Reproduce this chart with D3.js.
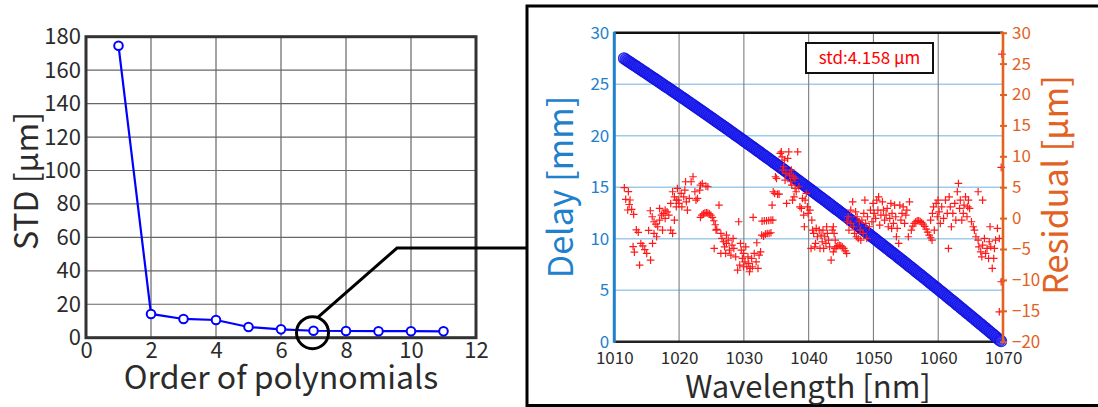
<!DOCTYPE html>
<html>
<head>
<meta charset="utf-8">
<script src="https://cdn.jsdelivr.net/npm/d3@7"></script>
<style>
  body { margin: 0; background: #fff; }
  svg { display: block; }
  text { font-family: "Noto Sans CJK JP", "Noto Sans", sans-serif; }
</style>
</head>
<body>
<svg id="chart" width="1098" height="407"></svg>
<script>
// ---- Left panel: fit error vs. polynomial order ----
const polyOrder = [1, 2, 3, 4, 5, 6, 7, 8, 9, 10, 11];
const polyStd   = [174.6, 14.2, 11.2, 10.6, 6.4, 5.0, 4.158, 4.0, 3.9, 3.9, 3.8];
const orderTicks = [0, 2, 4, 6, 8, 10, 12];
const stdTicks   = [0, 20, 40, 60, 80, 100, 120, 140, 160, 180];

// ---- Right panel: measured delay [wavelength nm, delay mm] ----
const delayPts = [
  [1011.5,27.50],[1011.75,27.40],[1012,27.29],[1012.25,27.19],[1012.5,27.09],[1012.75,26.98],[1013,26.88],[1013.25,26.77],
  [1013.5,26.67],[1013.75,26.56],[1014,26.46],[1014.25,26.35],[1014.5,26.25],[1014.75,26.14],[1015,26.04],[1015.25,25.93],
  [1015.5,25.83],[1015.75,25.72],[1016,25.62],[1016.25,25.51],[1016.5,25.41],[1016.75,25.30],[1017,25.19],[1017.25,25.08],
  [1017.5,24.98],[1017.75,24.87],[1018,24.77],[1018.25,24.66],[1018.5,24.56],[1018.75,24.45],[1019,24.34],[1019.25,24.23],
  [1019.5,24.13],[1019.75,24.02],[1020,23.91],[1020.25,23.80],[1020.5,23.70],[1020.75,23.59],[1021,23.48],[1021.25,23.37],
  [1021.5,23.26],[1021.75,23.15],[1022,23.05],[1022.25,22.94],[1022.5,22.83],[1022.75,22.72],[1023,22.61],[1023.25,22.50],
  [1023.5,22.39],[1023.75,22.28],[1024,22.17],[1024.25,22.06],[1024.5,21.95],[1024.75,21.84],[1025,21.73],[1025.25,21.62],
  [1025.5,21.51],[1025.75,21.40],[1026,21.29],[1026.25,21.18],[1026.5,21.07],[1026.75,20.96],[1027,20.85],[1027.25,20.74],
  [1027.5,20.63],[1027.75,20.51],[1028,20.40],[1028.25,20.29],[1028.5,20.18],[1028.75,20.06],[1029,19.95],[1029.25,19.84],
  [1029.5,19.73],[1029.75,19.61],[1030,19.50],[1030.25,19.39],[1030.5,19.28],[1030.75,19.16],[1031,19.05],[1031.25,18.94],
  [1031.5,18.83],[1031.75,18.71],[1032,18.60],[1032.25,18.48],[1032.5,18.37],[1032.75,18.25],[1033,18.14],[1033.25,18.03],
  [1033.5,17.92],[1033.75,17.80],[1034,17.69],[1034.25,17.57],[1034.5,17.46],[1034.75,17.34],[1035,17.23],[1035.25,17.11],
  [1035.5,17.00],[1035.75,16.88],[1036,16.77],[1036.25,16.65],[1036.5,16.53],[1036.75,16.41],[1037,16.30],[1037.25,16.18],
  [1037.5,16.07],[1037.75,15.95],[1038,15.84],[1038.25,15.72],[1038.5,15.60],[1038.75,15.48],[1039,15.37],[1039.25,15.25],
  [1039.5,15.13],[1039.75,15.01],[1040,14.90],[1040.25,14.78],[1040.5,14.66],[1040.75,14.54],[1041,14.43],[1041.25,14.31],
  [1041.5,14.19],[1041.75,14.07],[1042,13.95],[1042.25,13.83],[1042.5,13.72],[1042.75,13.60],[1043,13.48],[1043.25,13.36],
  [1043.5,13.24],[1043.75,13.12],[1044,13.00],[1044.25,12.88],[1044.5,12.76],[1044.75,12.64],[1045,12.52],[1045.25,12.40],
  [1045.5,12.28],[1045.75,12.16],[1046,12.04],[1046.25,11.92],[1046.5,11.80],[1046.75,11.68],[1047,11.56],[1047.25,11.43],
  [1047.5,11.31],[1047.75,11.19],[1048,11.07],[1048.25,10.95],[1048.5,10.83],[1048.75,10.70],[1049,10.58],[1049.25,10.46],
  [1049.5,10.34],[1049.75,10.21],[1050,10.09],[1050.25,9.97],[1050.5,9.85],[1050.75,9.72],[1051,9.60],[1051.25,9.48],
  [1051.5,9.36],[1051.75,9.23],[1052,9.11],[1052.25,8.98],[1052.5,8.86],[1052.75,8.73],[1053,8.61],[1053.25,8.49],
  [1053.5,8.37],[1053.75,8.24],[1054,8.12],[1054.25,7.99],[1054.5,7.87],[1054.75,7.74],[1055,7.62],[1055.25,7.49],
  [1055.5,7.37],[1055.75,7.24],[1056,7.12],[1056.25,6.99],[1056.5,6.86],[1056.75,6.73],[1057,6.61],[1057.25,6.48],
  [1057.5,6.36],[1057.75,6.23],[1058,6.11],[1058.25,5.98],[1058.5,5.85],[1058.75,5.72],[1059,5.60],[1059.25,5.47],
  [1059.5,5.35],[1059.75,5.22],[1060,5.09],[1060.25,4.96],[1060.5,4.84],[1060.75,4.71],[1061,4.58],[1061.25,4.45],
  [1061.5,4.32],[1061.75,4.19],[1062,4.07],[1062.25,3.94],[1062.5,3.81],[1062.75,3.68],[1063,3.55],[1063.25,3.42],
  [1063.5,3.29],[1063.75,3.16],[1064,3.03],[1064.25,2.90],[1064.5,2.77],[1064.75,2.64],[1065,2.51],[1065.25,2.38],
  [1065.5,2.25],[1065.75,2.12],[1066,1.99],[1066.25,1.86],[1066.5,1.73],[1066.75,1.60],[1067,1.47],[1067.25,1.34],
  [1067.5,1.21],[1067.75,1.07],[1068,0.94],[1068.25,0.81],[1068.5,0.68],[1068.75,0.55],[1069,0.42],[1069.25,0.28],
  [1069.5,0.15],[1069.7,0.05]
];

// ---- Right panel: fit residual [wavelength nm, residual um] ----
const residualPts = [
  [1011.55,4.92],[1012.17,4.28],[1011.76,3.04],[1012.43,2.93],[1012.07,1.31],[1012.68,1.42],[1012.99,0.61],[1012.30,2.20],
  [1013.40,-1.90],[1013.70,-2.30],[1012.90,-4.60],[1013.10,-5.50],[1014.10,-4.10],[1014.40,-4.50],[1014.70,-5.10],[1015.00,-5.70],
  [1013.90,-7.60],[1015.60,-6.80],[1015.90,-4.10],[1015.30,-2.00],
  [1015.56,1.19],[1015.85,0.22],[1016.13,-0.59],[1016.42,-0.97],[1016.70,-1.40],[1016.99,-0.32],[1017.28,0.49],[1017.56,0.76],
  [1017.85,-0.05],[1018.14,1.02],[1018.42,0.49],[1018.71,-1.94],[1019.00,-2.48],[1019.28,-0.32],[1019.57,1.83],[1019.86,2.91],
  [1018.71,2.37],[1017.85,1.29],[1016.99,1.56],[1016.13,-2.48],[1016.53,-3.02],[1017.45,-1.94],
  [1019.00,4.26],[1019.28,3.45],[1019.74,4.80],[1019.97,2.37],[1020.32,3.99],[1020.72,3.45],[1020.89,4.53],[1021.12,2.64],
  [1021.29,1.29],[1021.58,3.18],[1021.86,5.88],[1022.15,6.69],[1022.44,4.26],[1022.61,2.91],[1022.84,3.18],[1023.18,4.53],
  [1023.30,5.34],[1023.58,5.61],[1024.15,5.18],[1024.44,5.07],[1020.43,1.83],[1019.57,2.91],[1021.00,5.88],
  [1023.30,0.11],[1023.52,0.49],[1023.75,0.70],[1023.98,0.81],[1024.21,0.86],[1024.44,0.81],[1024.67,0.70],[1024.90,0.49],
  [1025.13,0.11],[1025.36,-0.43],[1025.59,-1.08],[1025.82,-1.83],
  [1026.16,2.10],[1025.70,-1.94],[1025.42,-4.91],[1026.45,-2.48],[1026.62,-3.29],[1026.85,-3.83],[1027.02,-4.64],[1027.31,-2.75],
  [1027.59,-3.56],[1027.77,-5.18],[1028.00,-5.99],[1027.19,-5.72],[1028.17,-4.37],[1028.45,-4.91],[1028.74,-6.26],[1029.03,-8.41],
  [1029.20,-0.59],[1029.48,-4.10],[1029.60,-5.18],[1029.77,-6.53],[1029.94,-5.72],[1030.17,-7.07],[1030.29,-4.64],[1030.46,-7.87],
  [1030.63,-6.26],[1030.74,-7.34],[1030.97,-8.14],[1031.20,-6.53],[1031.43,0.11],[1031.60,-5.72],[1031.89,-7.07],[1032.18,-8.14],
  [1032.35,-5.99],[1032.58,-5.45],[1027.31,-4.10],[1028.34,-3.29],[1026.45,-5.72],[1029.37,-7.61],[1030.86,-8.68],[1029.94,-7.87],
  [1031.32,-7.87],
  [1032.75,-2.75],[1033.04,-2.91],[1033.32,-2.59],[1033.61,-2.48],[1033.90,-2.48],[1034.18,-2.37],[1032.81,-0.49],[1033.15,-0.43],
  [1033.50,-0.43],[1033.84,-0.38],[1034.18,-0.32],[1034.47,-0.32],[1032.00,-3.99],
  [1034.36,2.10],[1034.53,4.26],[1034.76,3.99],[1034.87,6.69],[1035.04,6.42],[1035.21,3.88],[1035.44,3.88],[1035.62,10.46],
  [1035.79,10.73],[1035.90,9.92],[1036.02,7.77],[1036.13,8.31],[1036.25,9.39],[1036.36,6.15],[1036.48,7.23],[1036.59,2.37],
  [1036.76,9.65],[1036.93,10.73],[1037.05,6.96],[1037.22,5.88],[1037.39,5.34],[1037.51,2.91],[1037.62,6.69],[1037.74,3.45],
  [1037.91,4.80],[1038.08,4.26],[1038.31,10.73],[1038.48,5.07],[1038.65,1.83],[1038.88,1.56],[1039.05,3.18],[1039.23,0.49],
  [1039.34,-1.40],[1039.63,3.99],[1039.46,2.91],[1039.80,1.83],[1037.91,6.42],[1037.33,7.77],
  [1039.91,0.76],[1040.20,1.29],[1040.49,-0.32],[1040.60,-1.94],[1040.77,-2.48],[1040.95,-4.64],[1041.17,-1.67],[1041.35,-3.02],
  [1041.63,-1.94],[1041.75,-4.91],[1041.92,-2.75],[1042.09,-3.83],[1042.21,-1.94],[1042.32,-4.91],[1042.49,-3.02],[1042.67,-4.10],
  [1042.78,-1.40],[1042.89,-2.48],[1043.07,-3.56],[1043.24,-4.64],[1043.47,-6.80],[1043.64,-1.94],[1043.81,-1.40],[1043.93,-2.48],
  [1044.10,-3.56],[1041.06,-4.10],[1040.37,-4.91],
  [1043.81,-5.45],[1044.04,-4.91],[1044.27,-4.64],[1044.50,-4.48],[1044.73,-4.42],[1044.96,-4.48],[1045.19,-4.64],[1045.42,-4.91],
  [1045.65,-5.29],[1045.87,-5.72],
  [1045.93,-0.59],[1046.10,0.22],[1046.22,-1.94],[1046.50,-0.86],[1046.79,2.64],[1046.91,-1.40],[1047.08,-2.48],[1047.25,1.02],
  [1047.48,0.22],[1047.65,-3.29],[1047.82,-0.59],[1047.94,-1.94],[1048.22,-0.32],[1048.40,-2.48],[1048.51,0.76],[1048.68,2.91],
  [1048.80,-0.86],[1048.97,-3.29],[1049.08,0.22],[1049.37,-1.40],[1049.54,1.29],[1049.77,-0.59],[1049.94,2.37],[1050.11,0.76],
  [1046.50,1.29],[1047.36,-3.02],[1048.05,-3.56],
  [1050.34,-0.05],[1050.52,2.91],[1050.69,1.29],[1050.80,3.45],[1050.97,-1.13],[1051.15,0.49],[1051.38,2.64],[1051.55,1.29],
  [1051.72,-0.32],[1051.95,0.49],[1052.12,1.56],[1052.29,-1.40],[1052.52,-0.05],[1052.69,2.37],[1052.87,0.76],[1053.09,-0.86],
  [1053.27,2.10],[1053.44,0.22],[1053.67,-1.67],[1053.90,-4.10],[1054.07,2.10],[1054.24,-0.32],[1054.41,0.76],[1054.59,1.83],
  [1054.81,-0.86],[1055.00,0.49],[1055.16,1.29],[1055.39,-3.02],[1055.56,2.64],[1052.81,-1.67],[1053.55,-3.02],
  [1055.85,-1.94],[1056.07,-1.29],[1056.30,-0.86],[1056.53,-0.59],[1056.76,-0.43],[1056.99,-0.43],[1057.22,-0.54],[1057.45,-0.70],
  [1057.68,-0.97],[1057.91,-1.35],[1058.14,-1.78],[1058.37,-2.27],[1058.60,-2.75],[1058.83,-3.18],[1059.05,-3.56],
  [1058.83,-0.32],[1059.11,0.76],[1059.28,1.83],[1059.40,-1.94],[1059.68,2.37],[1059.86,0.22],[1059.97,2.91],[1060.14,1.02],
  [1060.32,-0.86],[1060.54,1.83],[1060.83,-0.05],[1061.12,2.91],[1061.40,0.76],[1061.58,-4.91],[1061.69,3.45],[1061.86,1.83],
  [1062.03,-1.40],[1062.26,0.76],[1062.55,2.37],[1062.72,-0.32],[1062.95,4.26],[1063.12,5.61],[1063.30,1.56],[1063.41,2.91],
  [1063.64,-0.32],[1063.87,0.76],[1063.98,2.10],[1064.21,3.45],[1064.44,0.22],[1064.67,2.91],[1064.84,1.56],[1065.13,-0.59],
  [1065.42,-1.40],[1064.56,1.83],[1066.16,4.26],[1066.85,2.91],
  [1065.59,-1.94],[1065.82,-3.02],[1066.16,-3.56],[1066.28,-4.64],[1066.56,-5.45],[1066.85,-4.37],[1067.13,-3.29],[1067.31,-5.72],
  [1067.54,-4.91],[1067.77,-6.53],[1068.00,-1.40],[1068.11,-4.64],[1068.34,-8.14],[1068.57,-6.53],[1068.85,-3.56],[1069.14,-1.67],
  [1069.43,-3.29],[1069.72,8.20],[1069.72,-10.30],[1069.43,-15.16],[1069.83,26.54],[1067.88,-3.83],[1068.68,-4.91],[1066.73,-6.26]
];

const wlTicks       = [1010, 1020, 1030, 1040, 1050, 1060, 1070];
const delayTicks    = [0, 5, 10, 15, 20, 25, 30];
const residualTicks = [-20, -15, -10, -5, 0, 5, 10, 15, 20, 25, 30];
const stdText = "std:4.158 μm";

const svg = d3.select("#chart");
const FONT = "'Noto Sans CJK JP', 'Noto Sans', sans-serif";
const DARK = "#2b2b2b";
const BLUE_AX = "#1f80cc";
const ORANGE = "#e2621f";

// ================= Left panel =================
const xL = d3.scaleLinear().domain([0, 12]).range([86, 476]);
const yL = d3.scaleLinear().domain([0, 180]).range([337.7, 36.7]);
const gL = svg.append("g");

// grid
gL.append("g").selectAll("line").data(orderTicks.slice(1, -1)).join("line")
  .attr("x1", d => xL(d)).attr("x2", d => xL(d))
  .attr("y1", yL(0)).attr("y2", yL(180))
  .attr("stroke", "#666").attr("stroke-width", 1.2);
gL.append("g").selectAll("line").data(stdTicks.slice(1, -1)).join("line")
  .attr("x1", xL(0)).attr("x2", xL(12))
  .attr("y1", d => yL(d)).attr("y2", d => yL(d))
  .attr("stroke", "#666").attr("stroke-width", 1.2);

// frame
gL.append("rect")
  .attr("x", xL(0)).attr("y", yL(180))
  .attr("width", xL(12) - xL(0)).attr("height", yL(0) - yL(180))
  .attr("fill", "none").attr("stroke", "#333").attr("stroke-width", 3);

// axes (labels only)
const axL = gL.append("g").attr("transform", `translate(${xL(0)},0)`)
  .call(d3.axisLeft(yL).tickValues(stdTicks).tickSize(0).tickPadding(5));
const axB = gL.append("g").attr("transform", `translate(0,${yL(0)})`)
  .call(d3.axisBottom(xL).tickValues(orderTicks).tickSize(0).tickPadding(5));
[axL, axB].forEach(a => {
  a.select(".domain").remove();
  a.selectAll("text").attr("fill", DARK).style("font-size", "22px").style("font-family", FONT);
});

// series
const stdPts = polyOrder.map((o, i) => [o, polyStd[i]]);
gL.append("path").datum(stdPts)
  .attr("fill", "none").attr("stroke", "#0000ff").attr("stroke-width", 2.2)
  .attr("d", d3.line().x(d => xL(d[0])).y(d => yL(d[1])));
gL.append("g").selectAll("circle").data(stdPts).join("circle")
  .attr("cx", d => xL(d[0])).attr("cy", d => yL(d[1])).attr("r", 4.3)
  .attr("fill", "#fff").attr("stroke", "#0000ff").attr("stroke-width", 2);

// titles
gL.append("text").attr("transform", "translate(27,181) rotate(-90)")
  .attr("text-anchor", "middle").attr("dy", "0.35em")
  .attr("fill", DARK).style("font-size", "32px").text("STD [μm]");
gL.append("text").attr("x", 281).attr("y", 389)
  .attr("text-anchor", "middle").attr("fill", DARK)
  .style("font-size", "32px").text("Order of polynomials");

// zoom callout: circle round order 7 and leader to right panel
const cx7 = xL(polyOrder[6]), cy7 = yL(polyStd[6]) + 2;
svg.append("circle").attr("cx", cx7 - 1).attr("cy", cy7).attr("r", 16)
  .attr("fill", "none").attr("stroke", "#000").attr("stroke-width", 3);
svg.append("path").attr("d", `M${cx7 + 4},${cy7 - 15} L397,248 L528,248`)
  .attr("fill", "none").attr("stroke", "#000").attr("stroke-width", 3);

// ================= Right panel =================
svg.append("rect").attr("x", 527).attr("y", 6).attr("width", 600).attr("height", 399.5)
  .attr("fill", "none").attr("stroke", "#000").attr("stroke-width", 3);

const xR = d3.scaleLinear().domain([1010, 1070]).range([614.3, 1003]);
const yD = d3.scaleLinear().domain([0, 30]).range([341.7, 32.7]);
const yRes = d3.scaleLinear().domain([-20, 30]).range([341.7, 32.7]);
const gR = svg.append("g");

// grid
gR.append("g").selectAll("line").data(delayTicks.slice(1, -1)).join("line")
  .attr("x1", xR(1010)).attr("x2", xR(1070))
  .attr("y1", d => yD(d)).attr("y2", d => yD(d))
  .attr("stroke", "#9fcbea").attr("stroke-width", 1.6);
gR.append("g").selectAll("line").data(wlTicks.slice(1, -1)).join("line")
  .attr("x1", d => xR(d)).attr("x2", d => xR(d))
  .attr("y1", yD(0)).attr("y2", yD(30))
  .attr("stroke", "#7d7d7d").attr("stroke-width", 1.1);

// axis lines
gR.append("line").attr("x1", xR(1010)).attr("x2", xR(1070)).attr("y1", yD(30)).attr("y2", yD(30))
  .attr("stroke", "#111").attr("stroke-width", 2.6);
gR.append("line").attr("x1", xR(1010)).attr("x2", xR(1070)).attr("y1", yD(0)).attr("y2", yD(0))
  .attr("stroke", "#222").attr("stroke-width", 2.6);

// delay markers
gR.append("g").selectAll("circle").data(delayPts).join("circle")
  .attr("cx", d => xR(d[0])).attr("cy", d => yD(d[1])).attr("r", 5.6)
  .attr("fill", "rgba(45,45,250,0.45)").attr("stroke", "rgba(20,20,225,0.9)").attr("stroke-width", 1.1);

// residual markers
const cross = 3.8;
gR.append("g").selectAll("path").data(residualPts).join("path")
  .attr("transform", d => `translate(${xR(d[0])},${yRes(d[1])})`)
  .attr("d", `M${-cross},0H${cross}M0,${-cross}V${cross}`)
  .attr("stroke", "#ff1a1a").attr("stroke-width", 1.2).attr("fill", "none");

// left (delay) axis
const axD = gR.append("g").attr("transform", `translate(${xR(1010)},0)`)
  .call(d3.axisLeft(yD).tickValues(delayTicks).tickSize(0).tickPadding(5));
axD.select(".domain").remove();
axD.selectAll("text").attr("fill", BLUE_AX).style("font-size", "17px").style("font-family", FONT);
gR.append("line").attr("x1", xR(1010)).attr("x2", xR(1010)).attr("y1", yD(0) + 1).attr("y2", yD(30) - 1)
  .attr("stroke", BLUE_AX).attr("stroke-width", 3);

// right (residual) axis
const axRes = gR.append("g").attr("transform", `translate(${xR(1070)},0)`)
  .call(d3.axisRight(yRes).tickValues(residualTicks).tickSize(4).tickPadding(5)
    .tickFormat(d => d < 0 ? "\u2212" + Math.abs(d) : String(d)));
axRes.select(".domain").remove();
axRes.selectAll(".tick line").attr("x1", -3).attr("stroke", ORANGE).attr("stroke-width", 2);
axRes.selectAll("text").attr("fill", ORANGE).style("font-size", "17px").style("font-family", FONT);
gR.append("line").attr("x1", xR(1070)).attr("x2", xR(1070)).attr("y1", yD(0) + 1).attr("y2", yD(30) - 1)
  .attr("stroke", ORANGE).attr("stroke-width", 2.6);

// bottom axis labels
const axW = gR.append("g").attr("transform", `translate(0,${yD(0)})`)
  .call(d3.axisBottom(xR).tickValues(wlTicks).tickSize(0).tickPadding(10).tickFormat(d3.format("d")));
axW.select(".domain").remove();
axW.selectAll("text").attr("fill", DARK).style("font-size", "17px").style("font-family", FONT);

// titles
gR.append("text").attr("transform", "translate(561,187) rotate(-90)")
  .attr("text-anchor", "middle").attr("dy", "0.35em")
  .attr("fill", BLUE_AX).style("font-size", "34px").text("Delay [mm]");
gR.append("text").attr("transform", "translate(1056,185) rotate(-90)")
  .attr("text-anchor", "middle").attr("dy", "0.35em")
  .attr("fill", ORANGE).style("font-size", "34px").text("Residual [μm]");
gR.append("text").attr("x", 808).attr("y", 398)
  .attr("text-anchor", "middle").attr("fill", DARK)
  .style("font-size", "31px").text("Wavelength [nm]");

// std annotation box
gR.append("rect").attr("x", 806).attr("y", 43).attr("width", 127).attr("height", 30)
  .attr("fill", "#fff").attr("stroke", "#111").attr("stroke-width", 2);
gR.append("text").attr("x", 869.5).attr("y", 64).attr("text-anchor", "middle")
  .attr("fill", "#ff0000").style("font-size", "17px").text(stdText);
</script>
</body>
</html>
